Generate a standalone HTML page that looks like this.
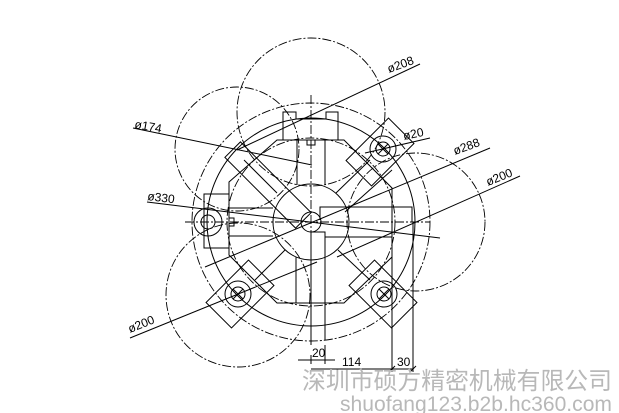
<!DOCTYPE html>
<html><head><meta charset="utf-8"><style>
html,body{margin:0;padding:0;background:#fff;}
svg{display:block;}
</style></head><body>
<svg width="619" height="413" viewBox="0 0 619 413" xmlns="http://www.w3.org/2000/svg">
<g fill="none" stroke="#000" stroke-width="1">
 <g stroke-dasharray="9 2 2 2" stroke-width="0.9">
  <circle cx="311" cy="112" r="74"/>
  <circle cx="237" cy="149" r="62"/>
  <circle cx="416" cy="222" r="69"/>
  <circle cx="238" cy="295" r="72"/>
  <circle cx="311" cy="222" r="119"/>
  <circle cx="311" cy="222" r="84"/>
  <line x1="311" y1="95" x2="311" y2="345"/>
  <line x1="185" y1="222" x2="430" y2="222"/>
 </g>
 <circle cx="311" cy="222" r="104"/>
 <polygon points="277,140 344,140 392,188 392,257 344,303 277,303 229,255 229,182"/>
 <polyline points="283,140 283,112 296,112 296,119 326,119 326,112 338,112 338,140"/>
 <rect x="307" y="140" width="8" height="5"/>
 <line x1="297" y1="140" x2="297" y2="185"/>
 <line x1="325" y1="140" x2="325" y2="185"/>
 <polyline points="311,232 325,232 325,340"/>
 <line x1="311" y1="232" x2="311" y2="345"/>
 <line x1="296" y1="257" x2="296" y2="303"/>
 <circle cx="311" cy="222" r="38"/>
 <circle cx="311" cy="222" r="10"/>
 <polyline points="320,220 320,207 412,207 412,222"/>
 <polyline points="325,237 392,237"/>
 <line x1="392" y1="237" x2="392" y2="372"/>
 <line x1="413" y1="222" x2="413" y2="372"/>
 <polyline points="229,194 204,194 204,248 229,248"/>
 <line x1="229" y1="208" x2="273" y2="208"/>
 <line x1="229" y1="236" x2="273" y2="236"/>
 <circle cx="208" cy="222" r="14"/>
 <circle cx="208" cy="222" r="7"/>
 <rect x="229" y="218" width="5" height="8"/>
 <rect x="218" y="174" width="100" height="22" transform="rotate(45 268 185)"/>
 <rect x="350" y="134" width="60" height="36" transform="rotate(-45 380 152)"/>
 <rect x="210" y="276" width="60" height="36" transform="rotate(-45 240 294)"/>
 <rect x="353" y="276" width="60" height="36" transform="rotate(45 383 294)"/>
 <line x1="277" y1="193" x2="244" y2="160"/>
 <line x1="336" y1="193" x2="370" y2="160"/>
 <line x1="285" y1="250" x2="255" y2="280"/>
 <line x1="338" y1="250" x2="370" y2="280"/>
 <line x1="345" y1="212" x2="392" y2="170"/>
 <g>
  <circle cx="383" cy="149" r="13"/><circle cx="383" cy="149" r="7"/>
  <line x1="378" y1="144" x2="388" y2="154"/><line x1="388" y1="144" x2="378" y2="154"/>
  <circle cx="238" cy="294" r="13"/><circle cx="238" cy="294" r="7"/>
  <line x1="233" y1="289" x2="243" y2="299"/><line x1="243" y1="289" x2="233" y2="299"/>
  <circle cx="384" cy="294" r="13"/><circle cx="384" cy="294" r="7"/>
  <line x1="379" y1="289" x2="389" y2="299"/><line x1="389" y1="289" x2="379" y2="299"/>
 </g>
 <line x1="237" y1="150" x2="420" y2="64"/>
 <line x1="133" y1="128" x2="312" y2="165"/>
 <line x1="365" y1="153" x2="430" y2="138"/>
 <line x1="205" y1="267" x2="490" y2="148"/>
 <line x1="337" y1="257" x2="520" y2="176"/>
 <line x1="147" y1="202" x2="440" y2="238"/>
 <line x1="130" y1="338" x2="317" y2="262"/>
 <!-- dimensions -->
 <line x1="298" y1="360" x2="335" y2="360"/>
 <line x1="311" y1="355" x2="311" y2="364"/>
 <line x1="325" y1="345" x2="325" y2="364"/>
 <line x1="311" y1="369" x2="413" y2="369"/>
 <line x1="389" y1="372" x2="395" y2="366"/>
 <line x1="410" y1="372" x2="416" y2="366"/>
</g>
<g font-family="Liberation Sans, sans-serif" font-size="12" fill="#000">
 <text x="389" y="73" transform="rotate(-20 389 73)">ø208</text>
 <text x="134" y="128" transform="rotate(10 134 128)">ø174</text>
 <text x="404" y="140" transform="rotate(-12 404 140)">ø20</text>
 <text x="455" y="155" transform="rotate(-20 455 155)">ø288</text>
 <text x="488" y="186" transform="rotate(-22 488 186)">ø200</text>
 <text x="147" y="200" transform="rotate(7 147 200)">ø330</text>
 <text x="130" y="333" transform="rotate(-22 130 333)">ø200</text>
 <text x="312" y="357">20</text>
 <text x="342" y="366">114</text>
 <text x="397" y="366">30</text>
</g>
<g font-family="Liberation Sans, 'Noto Sans CJK SC', sans-serif" fill="#b8b8b8">
 <text x="302" y="389" font-size="24" textLength="310" lengthAdjust="spacingAndGlyphs">深圳市硕方精密机械有限公司</text>
 <text x="340" y="411" font-size="21" textLength="272" lengthAdjust="spacingAndGlyphs">shuofang123.b2b.hc360.com</text>
</g>
</svg>
</body></html>
